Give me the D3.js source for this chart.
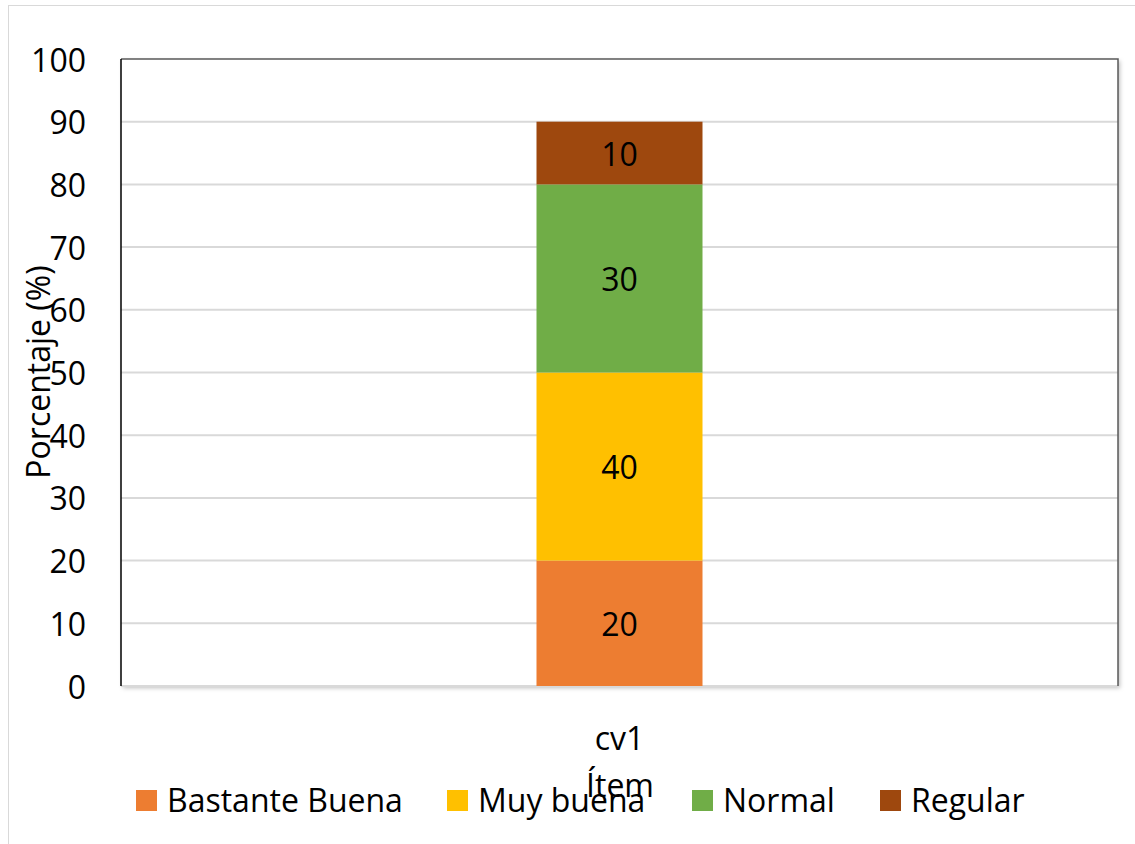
<!DOCTYPE html>
<html><head><meta charset="utf-8">
<script src="https://cdn.jsdelivr.net/npm/d3@7"></script>
<style>body{margin:0;background:#fff}svg{display:block}text{font-family:"Open Sans",sans-serif;fill:#000}</style>
</head><body>
<script>
const categories = ["cv1"];
const seriesNames = ["Bastante Buena", "Muy buena", "Normal", "Regular"];
// segment heights as drawn in the reference
const seriesValues = [[20], [30], [30], [10]];
// data labels as printed in the reference
const labelValues = [[20], [40], [30], [10]];
const colors = ["#ED7D31", "#FFC000", "#70AD47", "#9E480E"];
const yTicks = [0,10,20,30,40,50,60,70,80,90,100];

const W = 1135, H = 844, FS = 32;
const m = {l:121, r:1118, t:59, b:686};
const svg = d3.select("body").append("svg").attr("width", W).attr("height", H);

svg.append("rect").attr("x",8.5).attr("y",5.5).attr("width",W+10).attr("height",H+10)
  .attr("fill","#fff").attr("stroke","#d9d9d9").attr("stroke-width",1);

const defs = svg.append("defs");
const f = defs.append("filter").attr("id","sh").attr("x","-5%").attr("y","-5%").attr("width","110%").attr("height","110%");
f.append("feDropShadow").attr("dx",2).attr("dy",2).attr("stdDeviation",2).attr("flood-color","#000").attr("flood-opacity",0.25);

const x = d3.scaleBand().domain(categories).range([m.l, m.r]).paddingInner(0.5).paddingOuter(2.5);
const y = d3.scaleLinear().domain([0,100]).range([m.b, m.t]);

svg.append("rect").attr("x",m.l).attr("y",m.t).attr("width",m.r-m.l).attr("height",m.b-m.t)
  .attr("fill","#fff").attr("filter","url(#sh)");

svg.append("g").selectAll("line").data(yTicks.filter(d=>d>0 && d<100)).join("line")
  .attr("x1",m.l).attr("x2",m.r).attr("y1",d=>y(d)).attr("y2",d=>y(d))
  .attr("stroke","#d9d9d9").attr("stroke-width",2);
svg.append("line").attr("x1",m.l).attr("x2",m.r).attr("y1",y(0)).attr("y2",y(0))
  .attr("stroke","#d9d9d9").attr("stroke-width",2);

const rows = categories.map((c,i)=>{const o={cat:c}; seriesNames.forEach((s,j)=>o[s]=seriesValues[j][i]); return o;});
const stack = d3.stack().keys(seriesNames)(rows);
const bw = 166;
const gS = svg.append("g").selectAll("g").data(stack).join("g").attr("fill",(d,i)=>colors[i]);
gS.selectAll("rect").data(d=>d).join("rect")
  .attr("x",d=>x(d.data.cat)+x.bandwidth()/2-bw/2).attr("width",bw)
  .attr("y",d=>y(d[1])).attr("height",d=>y(d[0])-y(d[1]));
gS.each(function(s,j){
  d3.select(this).selectAll("text").data(s).join("text")
    .attr("x",d=>x(d.data.cat)+x.bandwidth()/2).attr("y",d=>(y(d[0])+y(d[1]))/2)
    .attr("text-anchor","middle").attr("dominant-baseline","central")
    .attr("font-size",FS).attr("fill","#000").text((d,i)=>labelValues[j][i]);
});

svg.append("path").attr("d",`M${m.l},${m.t}H${m.r}V${m.b}`).attr("fill","none").attr("stroke","#595959").attr("stroke-width",1.5);
svg.append("line").attr("x1",m.l).attr("x2",m.l).attr("y1",m.t).attr("y2",m.b).attr("stroke","#000").attr("stroke-width",1.5);

svg.append("g").selectAll("text").data(yTicks).join("text")
  .attr("x",86).attr("y",d=>y(d)).attr("text-anchor","end").attr("dominant-baseline","central")
  .attr("font-size",FS).text(d=>d);

svg.append("g").selectAll("text").data(categories).join("text")
  .attr("x",d=>x(d)+x.bandwidth()/2).attr("y",737).attr("text-anchor","middle").attr("dominant-baseline","central")
  .attr("font-size",FS).text(d=>d);
svg.append("text").attr("x",620).attr("y",784).attr("text-anchor","middle").attr("dominant-baseline","central")
  .attr("font-size",FS).text("Ítem");
svg.append("text").attr("transform","translate(37,372) rotate(-90)").attr("text-anchor","middle").attr("dominant-baseline","central")
  .attr("font-size",FS).text("Porcentaje (%)");

const legX = [136, 447, 692, 880];
const lg = svg.append("g").selectAll("g").data(seriesNames).join("g").attr("transform",(d,i)=>`translate(${legX[i]},790)`);
lg.append("rect").attr("width",21).attr("height",21).attr("fill",(d,i)=>colors[i]);
lg.append("text").attr("x",31).attr("y",9).attr("dominant-baseline","central").attr("font-size",FS).text(d=>d);
</script>
</body></html>
